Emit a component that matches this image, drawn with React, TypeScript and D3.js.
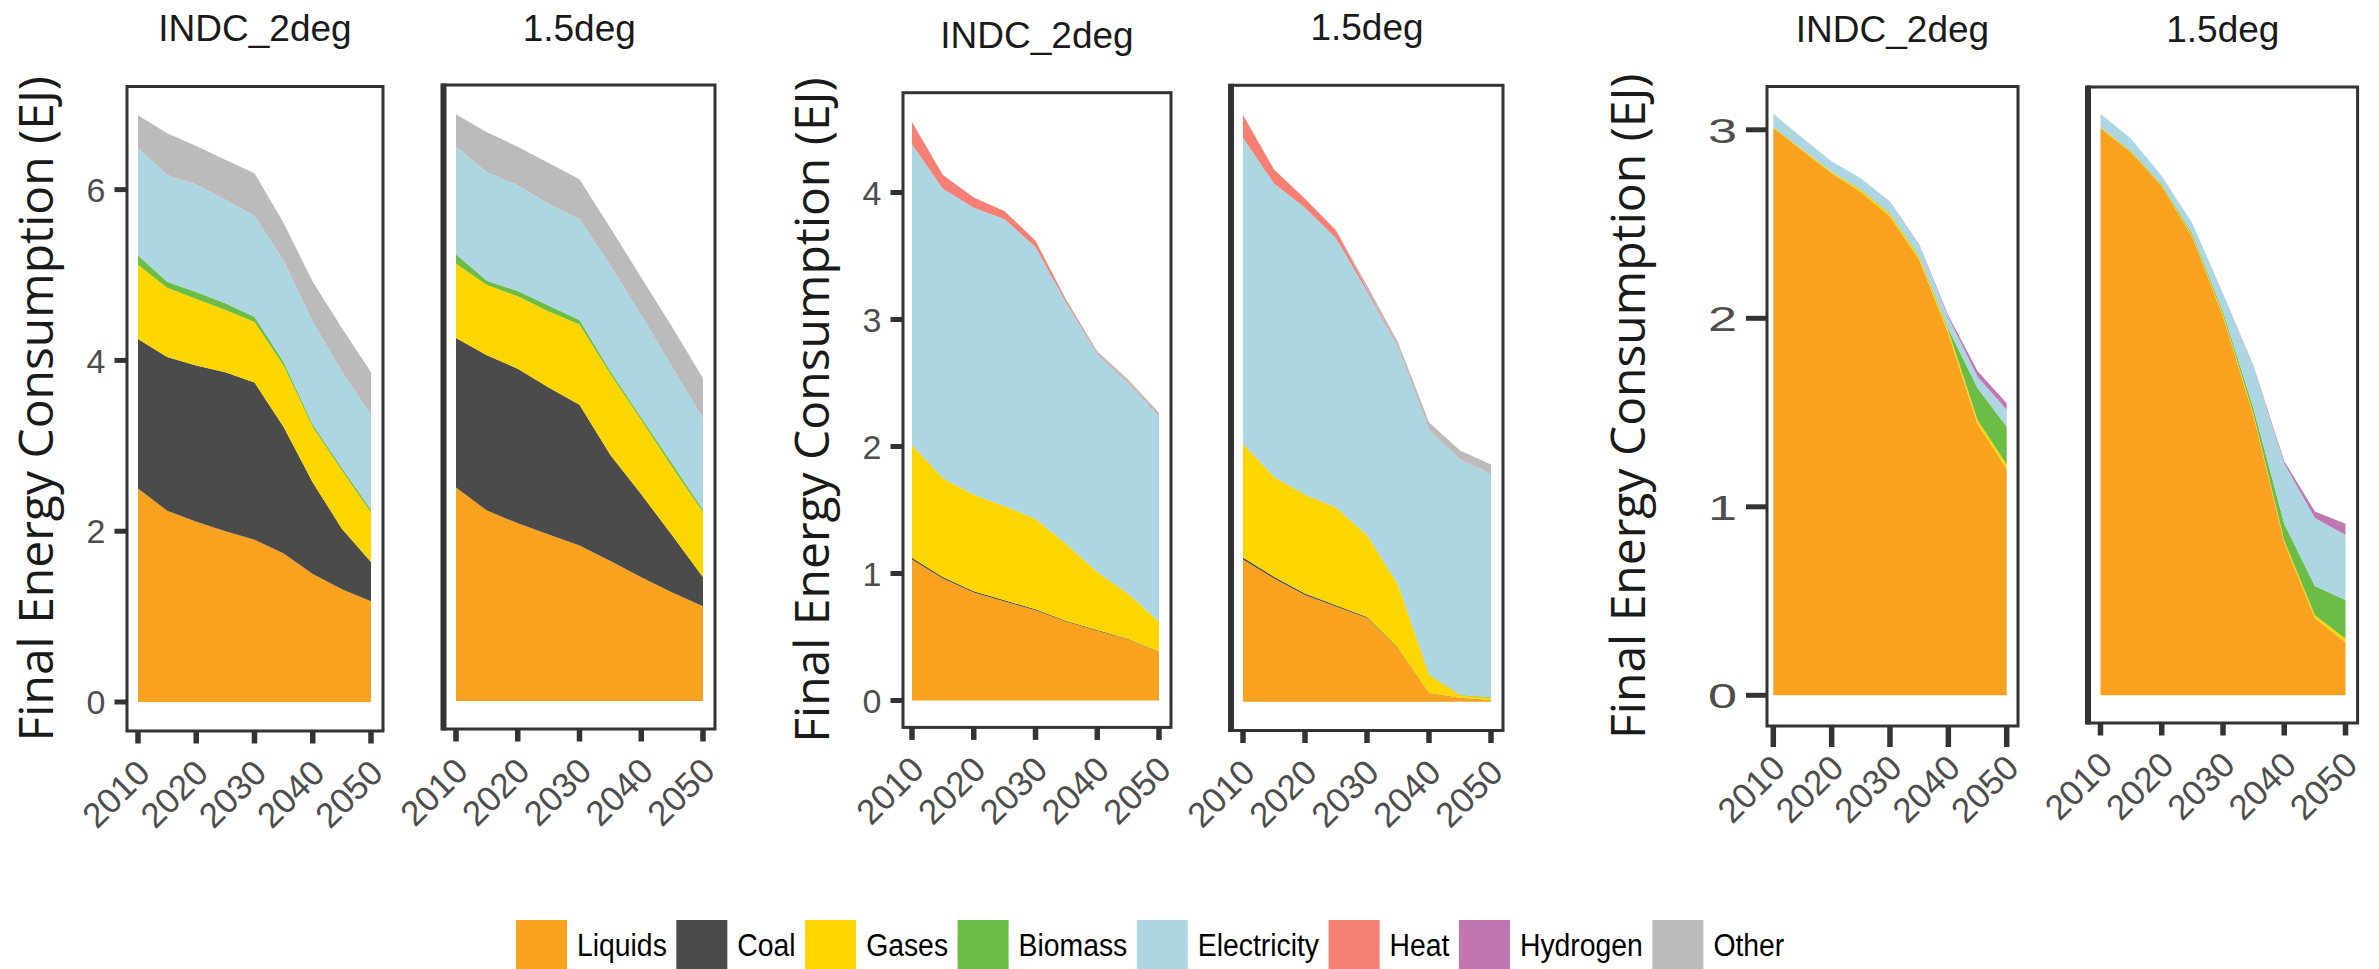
import * as d3 from "d3";
import { useMemo } from "react";

// years on the x axis, 5-year steps
const years = [2010, 2015, 2020, 2025, 2030, 2035, 2040, 2045, 2050];
const xTickYears = [2010, 2020, 2030, 2040, 2050];
const carriers = ["Liquids", "Coal", "Gases", "Biomass", "Electricity", "Heat", "Hydrogen", "Other"];
const carrierColors = ["#f8a21f", "#4b4b4b", "#fdd600", "#6cbd45", "#add6e3", "#f47f72", "#c076b1", "#bbbbbb"];
const scenarioTitles = ["INDC_2deg", "1.5deg"];
const yAxisTitle = "Final Energy Consumption (EJ)";
const none = [0, 0, 0, 0, 0, 0, 0, 0, 0];

// group A
const yTicksA = [0, 2, 4, 6];
const aIndcLiquids = [2.5, 2.24, 2.11, 2.0, 1.9, 1.74, 1.5, 1.32, 1.18];
const aIndcCoal = [1.75, 1.8, 1.83, 1.86, 1.84, 1.48, 1.07, 0.71, 0.46];
const aIndcGases = [0.87, 0.81, 0.78, 0.73, 0.71, 0.72, 0.65, 0.68, 0.58];
const aIndcBiomass = [0.11, 0.07, 0.08, 0.08, 0.06, 0.04, 0.03, 0.03, 0.03];
const aIndcElectricity = [1.26, 1.25, 1.26, 1.21, 1.18, 1.19, 1.2, 1.13, 1.11];
const aIndcOther = [0.38, 0.49, 0.45, 0.47, 0.5, 0.44, 0.47, 0.51, 0.5];

const a15Liquids = [2.5, 2.23, 2.08, 1.95, 1.82, 1.64, 1.45, 1.27, 1.11];
const a15Coal = [1.75, 1.82, 1.81, 1.72, 1.65, 1.24, 0.97, 0.67, 0.34];
const a15Gases = [0.87, 0.82, 0.85, 0.89, 0.94, 0.95, 0.87, 0.8, 0.76];
const a15Biomass = [0.11, 0.05, 0.06, 0.07, 0.05, 0.03, 0.03, 0.04, 0.03];
const a15Electricity = [1.26, 1.27, 1.24, 1.19, 1.18, 1.24, 1.2, 1.13, 1.07];
const a15Other = [0.38, 0.47, 0.45, 0.48, 0.47, 0.44, 0.44, 0.47, 0.47];

// group B
const yTicksB = [0, 1, 2, 3, 4];
const bIndcLiquids = [1.11, 0.96, 0.85, 0.78, 0.71, 0.62, 0.55, 0.48, 0.38];
const bIndcCoal = [0.015, 0.012, 0.01, 0.01, 0.008, 0.006, 0.005, 0.004, 0.003];
const bIndcGases = [0.885, 0.778, 0.76, 0.74, 0.712, 0.604, 0.455, 0.356, 0.237];
const bIndcElectricity = [2.37, 2.28, 2.26, 2.26, 2.14, 1.9, 1.72, 1.66, 1.61];
const bIndcHeat = [0.175, 0.107, 0.08, 0.063, 0.05, 0.02, 0.01, 0.008, 0.005];
const bIndcOther = [0, 0, 0, 0, 0, 0.005, 0.01, 0.02, 0.03];

const b15Liquids = [1.12, 0.97, 0.84, 0.75, 0.66, 0.42, 0.066, 0.03, 0.013];
const b15Coal = [0.015, 0.013, 0.011, 0.009, 0.007, 0.004, 0.002, 0.001, 0.001];
const b15Gases = [0.895, 0.787, 0.779, 0.771, 0.643, 0.496, 0.142, 0.019, 0.016];
const b15Biomass = [0, 0, 0, 0, 0, 0, 0.005, 0.005, 0.005];
const b15Electricity = [2.41, 2.31, 2.26, 2.12, 1.92, 1.87, 1.925, 1.855, 1.755];
const b15Heat = [0.18, 0.11, 0.07, 0.06, 0.02, 0.01, 0.005, 0.003, 0.002];
const b15Other = [0, 0, 0, 0.005, 0.03, 0.03, 0.055, 0.065, 0.075];

// group C
const yTicksC = [0, 1, 2, 3];
const cIndcLiquids = [3.01, 2.89, 2.77, 2.67, 2.54, 2.31, 1.92, 1.44, 1.2];
const cIndcGases = [0.003, 0.004, 0.006, 0.01, 0.012, 0.013, 0.015, 0.02, 0.025];
const cIndcBiomass = [0.002, 0.002, 0.002, 0.003, 0.004, 0.005, 0.01, 0.17, 0.2];
const cIndcElectricity = [0.07, 0.06, 0.055, 0.06, 0.06, 0.06, 0.06, 0.06, 0.09];
const cIndcHydrogen = [0, 0, 0, 0, 0.002, 0.004, 0.01, 0.03, 0.035];

const c15Liquids = [3.01, 2.88, 2.7, 2.43, 2.01, 1.48, 0.81, 0.41, 0.28];
const c15Gases = [0.003, 0.004, 0.005, 0.008, 0.01, 0.01, 0.01, 0.015, 0.02];
const c15Biomass = [0.002, 0.003, 0.005, 0.01, 0.015, 0.03, 0.09, 0.155, 0.205];
const c15Electricity = [0.07, 0.065, 0.045, 0.055, 0.095, 0.22, 0.32, 0.36, 0.345];
const c15Hydrogen = [0, 0, 0, 0, 0.002, 0.005, 0.012, 0.035, 0.06];

type Layout = {
  frame: [number, number, number, number];
  x2010: number;
  x2050: number;
  yZero: number;
  yUnit: number;
  yTicks: number[] | null;
  tickStretch: number;
  tickLen: number;
  titleY: number;
  leftThick: boolean;
};

const panels: { title: string; layout: Layout; series: number[][] }[] = [
  {
    title: scenarioTitles[0],
    layout: { frame: [127, 86.5, 383, 731], x2010: 138, x2050: 371, yZero: 702, yUnit: 85.4, yTicks: yTicksA, tickStretch: 1, tickLen: 12.5, titleY: 41, leftThick: false },
    series: [aIndcLiquids, aIndcCoal, aIndcGases, aIndcBiomass, aIndcElectricity, none, none, aIndcOther],
  },
  {
    title: scenarioTitles[1],
    layout: { frame: [443.5, 85, 715, 729], x2010: 456, x2050: 703, yZero: 701, yUnit: 85.4, yTicks: null, tickStretch: 1, tickLen: 12.5, titleY: 41, leftThick: true },
    series: [a15Liquids, a15Coal, a15Gases, a15Biomass, a15Electricity, none, none, a15Other],
  },
  {
    title: scenarioTitles[0],
    layout: { frame: [903, 92.7, 1171, 727.4], x2010: 912, x2050: 1159, yZero: 700.5, yUnit: 127, yTicks: yTicksB, tickStretch: 1, tickLen: 12.5, titleY: 48, leftThick: false },
    series: [bIndcLiquids, bIndcCoal, bIndcGases, none, bIndcElectricity, bIndcHeat, none, bIndcOther],
  },
  {
    title: scenarioTitles[1],
    layout: { frame: [1231, 85.3, 1503, 730.5], x2010: 1243, x2050: 1491, yZero: 701.7, yUnit: 127, yTicks: null, tickStretch: 1, tickLen: 12.5, titleY: 40, leftThick: true },
    series: [b15Liquids, b15Coal, b15Gases, b15Biomass, b15Electricity, b15Heat, none, b15Other],
  },
  {
    title: scenarioTitles[0],
    layout: { frame: [1767, 86.5, 2018, 726], x2010: 1773.3, x2050: 2006.7, yZero: 695.3, yUnit: 188.5, yTicks: yTicksC, tickStretch: 1.45, tickLen: 21, titleY: 42, leftThick: false },
    series: [cIndcLiquids, none, cIndcGases, cIndcBiomass, cIndcElectricity, none, cIndcHydrogen, none],
  },
  {
    title: scenarioTitles[1],
    layout: { frame: [2088, 87, 2357.6, 723], x2010: 2100.5, x2050: 2345.5, yZero: 695.3, yUnit: 188.5, yTicks: null, tickStretch: 1, tickLen: 12.5, titleY: 42, leftThick: true },
    series: [c15Liquids, none, c15Gases, c15Biomass, c15Electricity, none, c15Hydrogen, none],
  },
];

const axisColor = "#333333";
const tickTextColor = "#4d4d4d";

function Panel({ title, layout, series }: { title: string; layout: Layout; series: number[][] }) {
  const [fx0, fy0, fx1, fy1] = layout.frame;
  const x = d3.scaleLinear().domain([2010, 2050]).range([layout.x2010, layout.x2050]);
  const y = d3.scaleLinear().domain([0, 1]).range([layout.yZero, layout.yZero - layout.yUnit]);

  const table = years.map((yr, i) => {
    const row: Record<string, number> = { year: yr };
    carriers.forEach((c, k) => (row[c] = series[k][i]));
    return row;
  });
  const layers = d3.stack<Record<string, number>>().keys(carriers)(table);
  const area = d3
    .area<d3.SeriesPoint<Record<string, number>>>()
    .x((d) => x(d.data.year))
    .y0((d) => y(d[0]))
    .y1((d) => y(d[1]));

  return (
    <g>
      <text
        x={(fx0 + fx1) / 2}
        y={layout.titleY}
        textAnchor="middle"
        fontSize={37}
        fill="#1a1a1a"
        fontFamily="'Liberation Sans', Arial, sans-serif"
      >
        {title}
      </text>
      <rect x={fx0} y={fy0} width={fx1 - fx0} height={fy1 - fy0} fill="white" />
      {layers.map((layer, k) =>
        series[k].some((v) => v > 0) ? (
          <path key={carriers[k]} d={area(layer) || undefined} fill={carrierColors[k]} />
        ) : null
      )}
      <rect x={fx0} y={fy0} width={fx1 - fx0} height={fy1 - fy0} fill="none" stroke={axisColor} strokeWidth={3} />
      {layout.leftThick && <line x1={fx0} x2={fx0} y1={fy0 - 1.5} y2={fy1 + 1.5} stroke={axisColor} strokeWidth={6} />}
      {xTickYears.map((t) => (
        <g key={t}>
          <line x1={x(t)} x2={x(t)} y1={fy1} y2={fy1 + layout.tickLen} stroke={axisColor} strokeWidth={5.5} />
          <text
            transform={`translate(${x(t) + 14},${fy1 + 44}) rotate(-45)`}
            textAnchor="end"
            fontSize={35}
            fill={tickTextColor}
            fontFamily="'Liberation Sans', Arial, sans-serif"
          >
            {t}
          </text>
        </g>
      ))}
      {layout.yTicks &&
        layout.yTicks.map((t) => (
          <g key={t}>
            <line x1={fx0 - layout.tickLen} x2={fx0} y1={y(t)} y2={y(t)} stroke={axisColor} strokeWidth={5} />
            <text
              transform={`translate(${fx0 - layout.tickLen - 9},${y(t)}) scale(${layout.tickStretch},1)`}
              textAnchor="end"
              dy="0.36em"
              fontSize={layout.tickStretch > 1 ? 36 : 34}
              fill={tickTextColor}
              fontFamily="'Liberation Sans', Arial, sans-serif"
            >
              {t}
            </text>
          </g>
        ))}
      {layout.yTicks && (
        <text
          transform={`translate(${fx0 - (layout.tickStretch > 1 ? 122 : 74)},${(fy0 + fy1) / 2}) rotate(-90)`}
          textAnchor="middle"
          fontSize={48}
          fill="#1a1a1a"
          fontFamily="'Open Sans', sans-serif"
        >
          {yAxisTitle}
        </text>
      )}
    </g>
  );
}

const legendFont = 31.5;
const legendSqueeze = 0.9;

function Legend() {
  const items = useMemo(() => {
    const ctx = document.createElement("canvas").getContext("2d");
    if (ctx) ctx.font = `${legendFont}px "Liberation Sans"`;
    let cursor = 516;
    return carriers.map((c, k) => {
      const w = (ctx ? ctx.measureText(c).width : c.length * 16) * legendSqueeze;
      const item = { label: c, color: carrierColors[k], x: cursor };
      cursor += 51 + 10 + w + 9.5;
      return item;
    });
  }, []);
  return (
    <g>
      {items.map((it) => (
        <g key={it.label}>
          <rect x={it.x} y={920} width={51} height={51} fill={it.color} />
          <text
            transform={`translate(${it.x + 61},956) scale(${legendSqueeze},1)`}
            fontSize={legendFont}
            fill="#000"
            fontFamily="'Liberation Sans', Arial, sans-serif"
          >
            {it.label}
          </text>
        </g>
      ))}
    </g>
  );
}

export default function App() {
  return (
    <svg
      width={2379}
      height={969}
      style={{ position: "absolute", left: 0, top: 0, background: "white" }}
    >
      {panels.map((p, i) => (
        <Panel key={i} title={p.title} layout={p.layout} series={p.series} />
      ))}
      <Legend />
    </svg>
  );
}
